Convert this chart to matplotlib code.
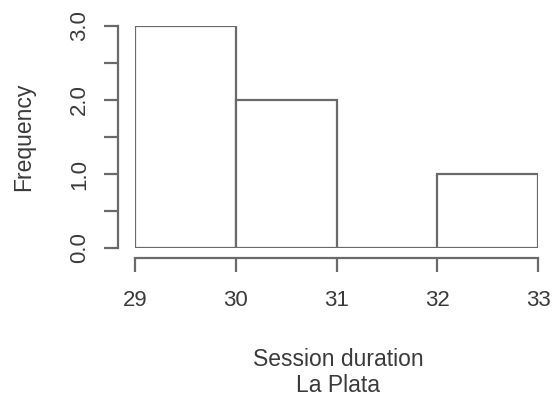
import matplotlib
matplotlib.use("Agg")
import matplotlib.pyplot as plt

bin_edges = [29, 30, 31, 32, 33]
counts = [3, 2, 0, 1]
x_ticks = [29, 30, 31, 32, 33]
y_ticks = [0.0, 0.5, 1.0, 1.5, 2.0, 2.5, 3.0]
y_labels = ["0.0", "", "1.0", "", "2.0", "", "3.0"]

plt.rcParams['font.family'] = ['Liberation Sans', 'DejaVu Sans']
dpi = 100
W, H = 553, 398
fig = plt.figure(figsize=(W / dpi, H / dpi), dpi=dpi)
ax = fig.add_axes([135 / W, 1 - 248 / H, 403 / W, 222 / H])

col = "#6a6a6a"
txt = "#3a3a3a"
lefts = bin_edges[:-1]
widths = [b - a for a, b in zip(bin_edges[:-1], bin_edges[1:])]
ax.bar(lefts, counts, width=widths, align='edge', facecolor='white',
       edgecolor=col, linewidth=1.6)
ax.set_xlim(29, 33)
ax.set_ylim(0, 3)

for s in ['top', 'right']:
    ax.spines[s].set_visible(False)
ax.spines['bottom'].set_position(('outward', 10 * 72 / dpi))
ax.spines['left'].set_position(('outward', 17 * 72 / dpi))
ax.spines['bottom'].set_bounds(29, 33)
ax.spines['left'].set_bounds(0, 3)
for s in ['bottom', 'left']:
    ax.spines[s].set_color(col)
    ax.spines[s].set_linewidth(1.6)

ax.set_xticks(x_ticks)
ax.set_xticklabels([str(v) for v in x_ticks])
ax.set_yticks(y_ticks)
ax.set_yticklabels(y_labels, rotation=90, va='center')
ax.tick_params(axis='both', colors=col, labelcolor=txt, length=10, width=1.6,
               labelsize=16)
ax.tick_params(axis='x', pad=13)
ax.tick_params(axis='y', pad=10)

ax.set_ylabel("Frequency", fontsize=16.5, color=txt)
ax.yaxis.set_label_coords(-100 / 403, 0.5)
fig.text(338 / W, 1 - 366 / H, "Session duration", fontsize=16.5, color=txt,
         ha='center', va='baseline')
fig.text(338 / W, 1 - 392 / H, "La Plata", fontsize=16.5, color=txt,
         ha='center', va='baseline')

fig.savefig("out.png", dpi=dpi)
